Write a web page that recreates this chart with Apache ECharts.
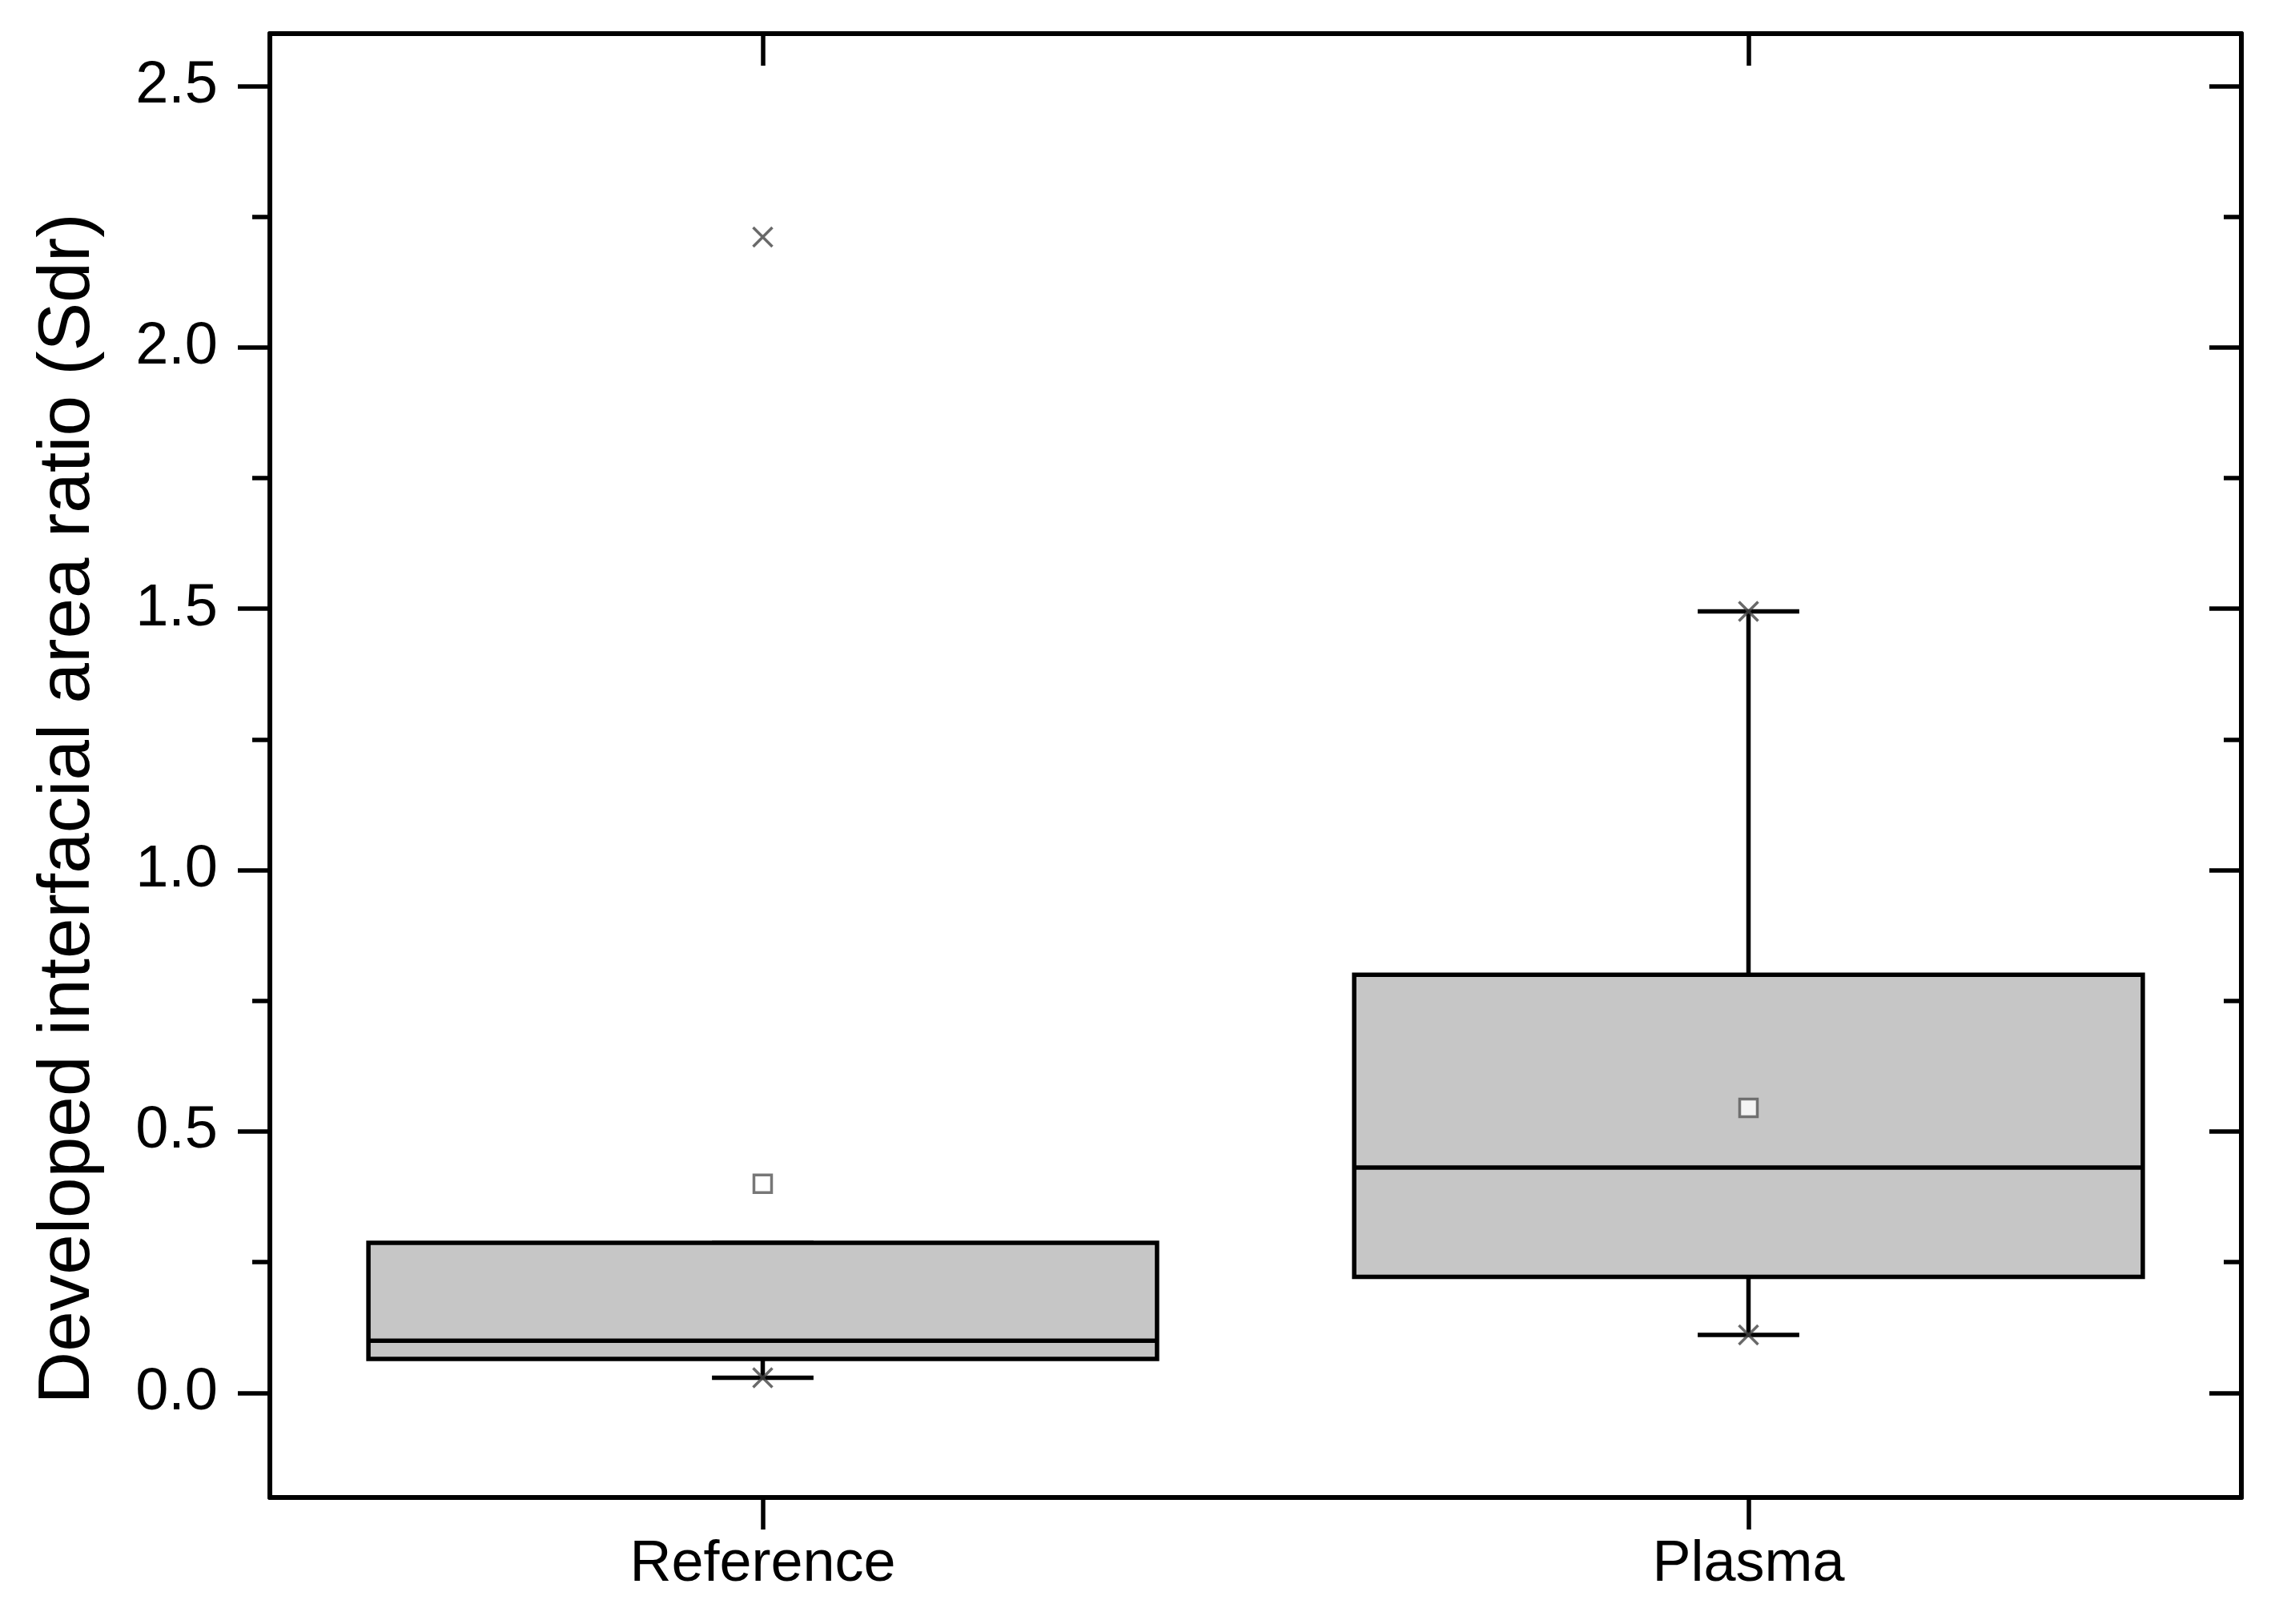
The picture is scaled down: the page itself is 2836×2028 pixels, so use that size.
<!DOCTYPE html>
<html>
<head>
<meta charset="utf-8">
<script src="https://cdn.jsdelivr.net/npm/echarts@6/dist/echarts.min.js"></script>
<style>
  html, body { margin: 0; padding: 0; background: #fff; }
  #main { width: 2836px; height: 2028px; }
</style>
</head>
<body>
<div id="main"></div>
<script>
// box statistics
const categories = ['Reference', 'Plasma'];
const lowerWhisker = [0.029, 0.111];
const q1 = [0.065, 0.222];
const median = [0.100, 0.431];
const q3 = [0.287, 0.800];
const upperWhisker = [0.287, 1.495];
const mean = [0.400, 0.545];
const minValue = [0.029, 0.111];
const maxValue = [2.211, 1.495];
// y ticks
const majorTicks = [0, 0.5, 1.0, 1.5, 2.0, 2.5];
const minorTicks = [0.25, 0.75, 1.25, 1.75, 2.25];

const boxData = categories.map((c, i) => [i, lowerWhisker[i], q1[i], median[i], q3[i], upperWhisker[i]]);
const meanData = categories.map((c, i) => [i, mean[i]]);
const extremeData = [];
categories.forEach((c, i) => {
    extremeData.push([i, minValue[i]]);
    extremeData.push([i, maxValue[i]]);
});

const font = 'Liberation Sans';
const lw = 5.5;

function renderBox(params, api) {
    const i = api.value(0);
    const band = api.size([1, 0])[0];
    const bw = band * 0.8;
    const cw = band * 0.103;
    const low = api.coord([i, api.value(1)]);
    const p1 = api.coord([i, api.value(2)]);
    const med = api.coord([i, api.value(3)]);
    const p3 = api.coord([i, api.value(4)]);
    const high = api.coord([i, api.value(5)]);
    const x = p1[0];
    const line = { stroke: '#000', lineWidth: lw };
    return {
        type: 'group',
        children: [
            { type: 'line', shape: { x1: x, y1: p3[1], x2: x, y2: high[1] }, style: line },
            { type: 'line', shape: { x1: x, y1: p1[1], x2: x, y2: low[1] }, style: line },
            { type: 'line', shape: { x1: x - cw / 2, y1: high[1], x2: x + cw / 2, y2: high[1] }, style: line },
            { type: 'line', shape: { x1: x - cw / 2, y1: low[1], x2: x + cw / 2, y2: low[1] }, style: line },
            { type: 'rect', shape: { x: x - bw / 2, y: p3[1], width: bw, height: p1[1] - p3[1] },
              style: { fill: '#c6c6c6', stroke: '#000', lineWidth: lw } },
            { type: 'line', shape: { x1: x - bw / 2, y1: med[1], x2: x + bw / 2, y2: med[1] }, style: line }
        ]
    };
}

const axisLine = { show: true, onZero: false, lineStyle: { color: '#000', width: 6 } };

let myChart = echarts.init(document.getElementById('main'));
myChart.setOption({
    animation: false,
    backgroundColor: '#fff',
    grid: { left: 337, right: 37, top: 42, bottom: 158 },
    xAxis: [
        {
            type: 'category', data: categories, position: 'bottom',
            axisLine: axisLine,
            axisTick: { show: true, alignWithLabel: true, length: 40, lineStyle: { color: '#000', width: lw } },
            axisLabel: { fontSize: 72, fontFamily: font, color: '#000', margin: 48 },
            splitLine: { show: false }
        },
        {
            type: 'category', data: categories, position: 'top',
            axisLine: axisLine,
            axisTick: { show: true, inside: true, alignWithLabel: true, length: 40, lineStyle: { color: '#000', width: lw } },
            axisLabel: { show: false },
            splitLine: { show: false }
        }
    ],
    yAxis: [
        {
            type: 'value', position: 'left', min: -0.2, max: 2.6,
            axisLine: axisLine,
            axisTick: { show: true, customValues: majorTicks, length: 40, lineStyle: { color: '#000', width: lw } },
            axisLabel: { customValues: majorTicks, formatter: v => v.toFixed(1), fontSize: 74, fontFamily: font, color: '#000', margin: 65 },
            splitLine: { show: false }
        },
        {
            type: 'value', position: 'left', min: -0.2, max: 2.6,
            axisLine: { show: false },
            axisTick: { show: true, customValues: minorTicks, length: 22, lineStyle: { color: '#000', width: lw } },
            axisLabel: { show: false },
            splitLine: { show: false }
        },
        {
            type: 'value', position: 'right', min: -0.2, max: 2.6,
            axisLine: axisLine,
            axisTick: { show: true, inside: true, customValues: majorTicks, length: 40, lineStyle: { color: '#000', width: lw } },
            axisLabel: { show: false },
            splitLine: { show: false }
        },
        {
            type: 'value', position: 'right', min: -0.2, max: 2.6,
            axisLine: { show: false },
            axisTick: { show: true, inside: true, customValues: minorTicks, length: 22, lineStyle: { color: '#000', width: lw } },
            axisLabel: { show: false },
            splitLine: { show: false }
        }
    ],
    graphic: [{
        type: 'text', x: 86, y: 1010, rotation: Math.PI / 2,
        style: {
            text: 'Developed interfacial area ratio (Sdr)',
            fontSize: 91, fontFamily: font, fill: '#000',
            align: 'center', verticalAlign: 'middle',
            textAlign: 'center', textVerticalAlign: 'middle'
        }
    }],
    series: [
        {
            type: 'custom', xAxisIndex: 0, yAxisIndex: 0,
            renderItem: renderBox,
            encode: { x: 0, y: [1, 2, 3, 4, 5] },
            data: boxData,
            z: 2
        },
        {
            type: 'scatter', xAxisIndex: 0, yAxisIndex: 0,
            symbol: 'rect', symbolSize: 22,
            itemStyle: { color: '#fff', borderColor: '#555', borderWidth: 3.5 },
            data: meanData,
            z: 3
        },
        {
            type: 'scatter', xAxisIndex: 0, yAxisIndex: 0,
            symbol: 'path://M0 0L20 20M20 0L0 20', symbolSize: 24,
            itemStyle: { color: 'none', borderColor: '#444', borderWidth: 3.5 },
            data: extremeData,
            z: 4
        }
    ]
});
</script>
</body>
</html>
